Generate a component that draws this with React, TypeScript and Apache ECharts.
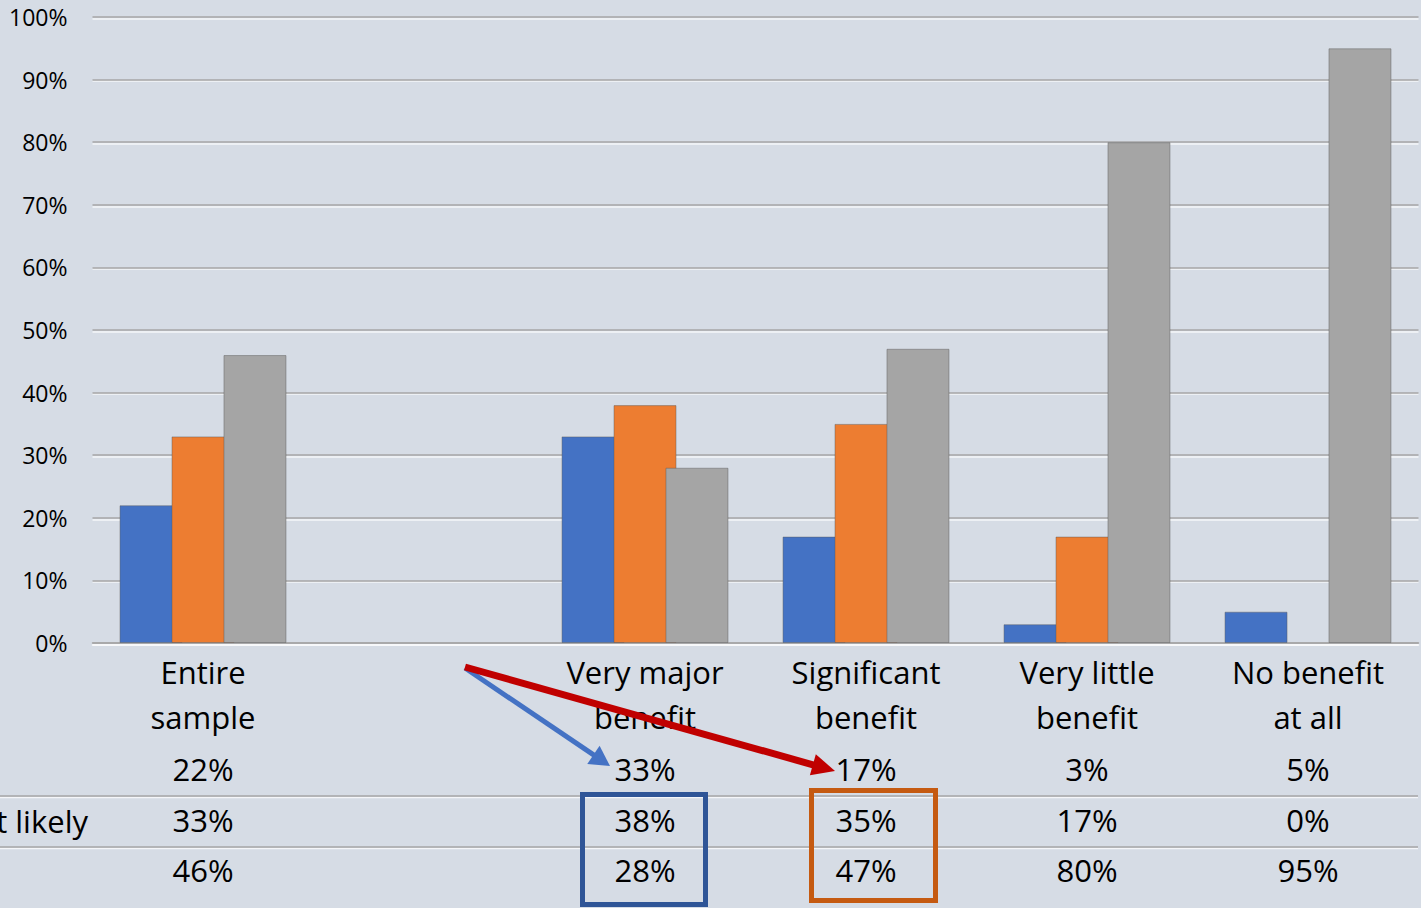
import React, { useEffect, useRef } from "react";
import * as echarts from "echarts";

const categories = [
  "Entire\nsample",
  "",
  "Very major\nbenefit",
  "Significant\nbenefit",
  "Very little\nbenefit",
  "No benefit\nat all",
];
const seriesNames = ["Series 1", "Most likely", "Series 3"];
const seriesA: (number | null)[] = [22, null, 33, 17, 3, 5];
const seriesB: (number | null)[] = [33, null, 38, 35, 17, 0];
const seriesC: (number | null)[] = [46, null, 28, 47, 80, 95];
const yTicks = { min: 0, max: 100, interval: 10 };
const colors = ["#4472C4", "#ED7D31", "#A5A5A5"];

const FONT = "Open Sans";
const FS = 31;

function fmt(v: number | null) {
  return v === null ? "" : v + "%";
}

function arrow(
  x1: number, y1: number, x2: number, y2: number,
  color: string, width: number, headLen: number, headW: number
) {
  const dx = x2 - x1, dy = y2 - y1;
  const L = Math.hypot(dx, dy);
  const ux = dx / L, uy = dy / L;
  const bx = x2 - ux * headLen, by = y2 - uy * headLen;
  const px = -uy, py = ux;
  return [
    { type: "line", z: 100, shape: { x1, y1, x2: bx + ux * 2, y2: by + uy * 2 }, style: { stroke: color, lineWidth: width } },
    {
      type: "polygon", z: 100,
      shape: { points: [[x2, y2], [bx + px * headW, by + py * headW], [bx - px * headW, by - py * headW]] },
      style: { fill: color },
    },
  ];
}

export default function App() {
  const ref = useRef<HTMLDivElement>(null);
  useEffect(() => {
    if (!ref.current) return;
    const chart = echarts.init(ref.current, null, { renderer: "svg" });
    const GRID = "#A6A6A6";
    const HIL = "rgba(255,255,255,0.75)";
    const tableAxis = (vals: (number | null)[], offset: number) => ({
      type: "category",
      gridIndex: 0,
      position: "bottom",
      offset,
      data: vals.map(fmt),
      axisLine: { show: false },
      axisTick: { show: false },
      splitLine: { show: false },
      axisLabel: {
        interval: 0,
        margin: 0,
        fontFamily: FONT,
        fontSize: FS,
        lineHeight: 36,
        color: "#000",
        verticalAlign: "top",
      },
    });
    const series = [seriesA, seriesB, seriesC].map((d, i) => ({
      name: seriesNames[i],
      type: "bar",
      xAxisIndex: 0,
      yAxisIndex: 0,
      data: d.map((v) =>
        v === 0 ? { value: v, itemStyle: { borderWidth: 0 } } : v
      ),
      barWidth: 63,
      barGap: "-17.5%",
      z: 3,
      itemStyle: {
        color: colors[i],
        borderColor: "rgba(90,90,90,0.45)",
        borderWidth: 1,
      },
    }));
    chart.setOption({
      animation: false,
      backgroundColor: "#D6DCE5",
      grid: [
        { left: 92.5, right: 2.5, top: 17, bottom: 265, containLabel: false },
        { left: 92.5, right: 2.5, top: 18.5, bottom: 263.5, containLabel: false },
      ],
      xAxis: [
        {
          type: "category",
          data: categories,
          position: "bottom",
          axisLine: { show: true, lineStyle: { color: GRID, width: 1.5 } },
          axisTick: { show: false },
          axisLabel: {
            interval: 0,
            margin: 6,
            fontFamily: FONT,
            fontSize: FS,
            lineHeight: 45,
            color: "#000",
            verticalAlign: "top",
          },
          z: 2,
        },
        tableAxis(seriesA, 108),
        tableAxis(seriesB, 159),
        tableAxis(seriesC, 209),
        {
          type: "category",
          gridIndex: 1,
          data: categories,
          axisLine: { show: true, lineStyle: { color: HIL, width: 1.5 } },
          axisTick: { show: false },
          axisLabel: { show: false },
          z: 1,
        },
      ],
      yAxis: [
        {
          type: "value",
          ...yTicks,
          axisLine: { show: false },
          axisTick: { show: false },
          splitLine: { show: true, lineStyle: { color: GRID, width: 1.5 } },
          axisLabel: {
            formatter: "{value}%",
            margin: 25,
            fontFamily: FONT,
            fontSize: 23,
            color: "#000",
          },
          z: 2,
        },
        {
          type: "value",
          gridIndex: 1,
          ...yTicks,
          axisLine: { show: false },
          axisTick: { show: false },
          splitLine: { show: true, lineStyle: { color: HIL, width: 1.5 } },
          axisLabel: { show: false },
          z: 1,
        },
      ],
      series,
      graphic: [
        { type: "line", z: 1, shape: { x1: 0, y1: 797.5, x2: 1418, y2: 797.5 }, style: { stroke: HIL, lineWidth: 1.5 } },
        { type: "line", z: 1, shape: { x1: 0, y1: 796, x2: 1418, y2: 796 }, style: { stroke: GRID, lineWidth: 1.5 } },
        { type: "line", z: 1, shape: { x1: 0, y1: 848.5, x2: 1418, y2: 848.5 }, style: { stroke: HIL, lineWidth: 1.5 } },
        { type: "line", z: 1, shape: { x1: 0, y1: 847, x2: 1418, y2: 847 }, style: { stroke: GRID, lineWidth: 1.5 } },
        {
          type: "text", z: 50, x: 88, y: 821,
          style: { text: seriesNames[1], fontFamily: FONT, fontSize: FS, fill: "#000", align: "right", verticalAlign: "middle" },
        },
        { type: "rect", z: 100, shape: { x: 582.5, y: 794.5, width: 123, height: 110 }, style: { fill: "none", stroke: "#2F5597", lineWidth: 5 } },
        { type: "rect", z: 100, shape: { x: 811.5, y: 790.5, width: 124, height: 110 }, style: { fill: "none", stroke: "#C55A11", lineWidth: 5 } },
        ...arrow(465, 668, 610, 766, "#4472C4", 5, 20, 11),
        ...arrow(465, 667, 835, 771, "#C00000", 7, 23, 11),
      ],
    });
    return () => chart.dispose();
  }, []);
  return (
    <div
      ref={ref}
      style={{ position: "fixed", left: 0, top: 0, width: 1421, height: 908 }}
    />
  );
}
